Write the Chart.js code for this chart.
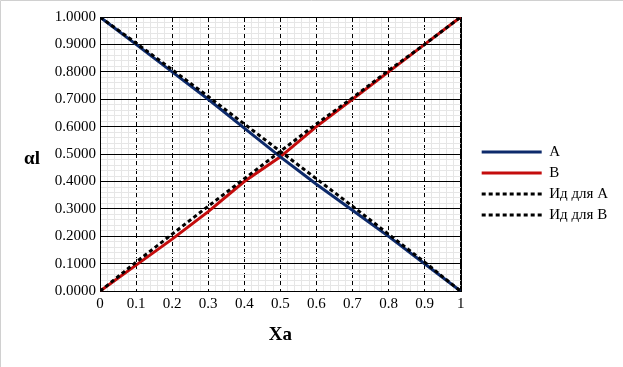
<!DOCTYPE html>
<html>
<head>
<meta charset="utf-8">
<script src="https://cdn.jsdelivr.net/npm/chart.js@4/dist/chart.umd.min.js"></script>
<style>
  html, body { margin: 0; padding: 0; background: #fff; }
  #wrap { width: 623px; height: 367px; position: relative; }
</style>
</head>
<body>
<div id="wrap"><canvas id="chart" width="623" height="367"></canvas></div>
<script>
const xValues = [0, 0.1, 0.2, 0.3, 0.4, 0.5, 0.6, 0.7, 0.8, 0.9, 1];
const seriesA = [1.0000, 0.9000, 0.8000, 0.7000, 0.5950, 0.4900, 0.3900, 0.2950, 0.2000, 0.1000, 0.0000];
const seriesB = [0.0000, 0.0950, 0.1900, 0.2900, 0.4000, 0.4900, 0.6000, 0.7000, 0.8000, 0.9000, 1.0000];
const idealA = [1.0000, 0.9050, 0.8080, 0.7100, 0.6100, 0.5100, 0.4100, 0.3100, 0.2080, 0.1060, 0.0000];
const idealB = [0.0000, 0.1060, 0.2080, 0.3100, 0.4100, 0.5100, 0.6100, 0.7050, 0.8050, 0.9000, 1.0000];
const seriesNames = ['A', 'B', 'Ид для A', 'Ид для B'];

const FONT = "'Liberation Serif', 'Times New Roman', serif";
const LEGEND_SHIFT = 15; // gap between plot and legend

function isMajor(v) {
    return Math.abs(v * 10 - Math.round(v * 10)) < 1e-6;
}

function pts(ys) {
    return xValues.map((x, i) => ({ x: x, y: ys[i] }));
}

// white background, faint outer frame, black plot frame and the horizontal "αl" label
const decorPlugin = {
    id: 'decor',
    afterLayout(chart) {
        const lg = chart.legend;
        if (lg) {
            lg.left += LEGEND_SHIFT;
            lg.right += LEGEND_SHIFT;
            lg.top += 2;
            lg.bottom += 2;
        }
    },
    beforeDraw(chart) {
        const c = chart.ctx;
        c.save();
        c.fillStyle = '#fff';
        c.fillRect(0, 0, chart.width, chart.height);
        c.strokeStyle = '#d0d0d0';
        c.lineWidth = 1;
        c.beginPath();
        c.moveTo(0.5, chart.height);
        c.lineTo(0.5, 0.5);
        c.lineTo(chart.width, 0.5);
        c.stroke();
        c.restore();
    },
    beforeDatasetsDraw(chart) {
        const a = chart.chartArea;
        const c = chart.ctx;
        c.save();
        c.strokeStyle = '#000';
        c.lineWidth = 1;
        c.strokeRect(Math.round(a.left) + 0.5, Math.round(a.top) + 0.5,
            Math.round(a.right - a.left), Math.round(a.bottom - a.top));
        c.restore();
    },
    afterDraw(chart) {
        const a = chart.chartArea;
        const c = chart.ctx;
        c.save();
        c.font = 'bold 19px ' + FONT;
        c.fillStyle = '#000';
        c.textAlign = 'center';
        c.textBaseline = 'middle';
        c.fillText('αl', a.left - 68, (a.top + a.bottom) / 2 + 5);
        c.restore();
    }
};

const ctx = document.getElementById('chart').getContext('2d');
const chart = new Chart(ctx, {
    type: 'scatter',
    data: {
        datasets: [
            { label: seriesNames[0], data: pts(seriesA), showLine: true, borderColor: '#0d2a6b', backgroundColor: '#0d2a6b', borderWidth: 3, pointRadius: 0, pointStyle: 'line', order: 2 },
            { label: seriesNames[1], data: pts(seriesB), showLine: true, borderColor: '#c40c0c', backgroundColor: '#c40c0c', borderWidth: 3, pointRadius: 0, pointStyle: 'line', order: 2 },
            { label: seriesNames[2], data: pts(idealA), showLine: true, borderColor: '#000', backgroundColor: '#000', borderWidth: 3, borderDash: [4, 3], pointRadius: 0, pointStyle: 'line', order: 1 },
            { label: seriesNames[3], data: pts(idealB), showLine: true, borderColor: '#000', backgroundColor: '#000', borderWidth: 3, borderDash: [4, 3], pointRadius: 0, pointStyle: 'line', order: 1 }
        ]
    },
    options: {
        responsive: false,
        animation: false,
        layout: { padding: { left: 0, top: 17, right: 20, bottom: 21 } },
        scales: {
            x: {
                type: 'linear', min: 0, max: 1,
                ticks: {
                    stepSize: 0.02, autoSkip: false, maxRotation: 0, padding: 4,
                    color: '#000', font: { family: FONT, size: 15 },
                    callback: v => isMajor(v) ? (v < 1e-6 ? '0' : (v > 1 - 1e-6 ? '1' : v.toFixed(1))) : ''
                },
                grid: {
                    drawTicks: false, lineWidth: 1,
                    color: c => c.tick && isMajor(c.tick.value) ? '#000' : '#e6e6e6'
                },
                border: {
                    display: false,
                    dash: c => c.tick && isMajor(c.tick.value) && c.tick.value > 1e-6 && c.tick.value < 1 - 1e-6 ? [5, 3] : []
                },
                title: {
                    display: true, text: 'Xa', color: '#000',
                    font: { family: FONT, size: 19, weight: 'bold' },
                    padding: { top: 6, bottom: 0 }
                }
            },
            y: {
                type: 'linear', min: 0, max: 1,
                afterFit: s => { s.width = 100; },
                ticks: {
                    stepSize: 0.02, autoSkip: false, padding: 4,
                    color: '#000', font: { family: FONT, size: 15 },
                    callback: v => isMajor(v) ? v.toFixed(4) : ''
                },
                grid: {
                    drawTicks: false, lineWidth: 1,
                    color: c => c.tick && isMajor(c.tick.value) ? '#000' : '#e6e6e6'
                },
                border: { display: false }
            }
        },
        plugins: {
            legend: {
                position: 'right',
                align: 'center',
                labels: {
                    usePointStyle: true,
                    pointStyleWidth: 60,
                    padding: 6,
                    color: '#000',
                    font: { family: FONT, size: 15 },
                    sort: (a, b) => a.datasetIndex - b.datasetIndex,
                    generateLabels: ch => Chart.defaults.plugins.legend.labels.generateLabels(ch).map(item => {
                        const ds = ch.data.datasets[item.datasetIndex];
                        item.lineDash = ds.borderDash || [];
                        item.lineWidth = ds.borderWidth;
                        return item;
                    })
                }
            },
            tooltip: { enabled: false }
        }
    },
    plugins: [decorPlugin]
});
</script>
</body>
</html>
